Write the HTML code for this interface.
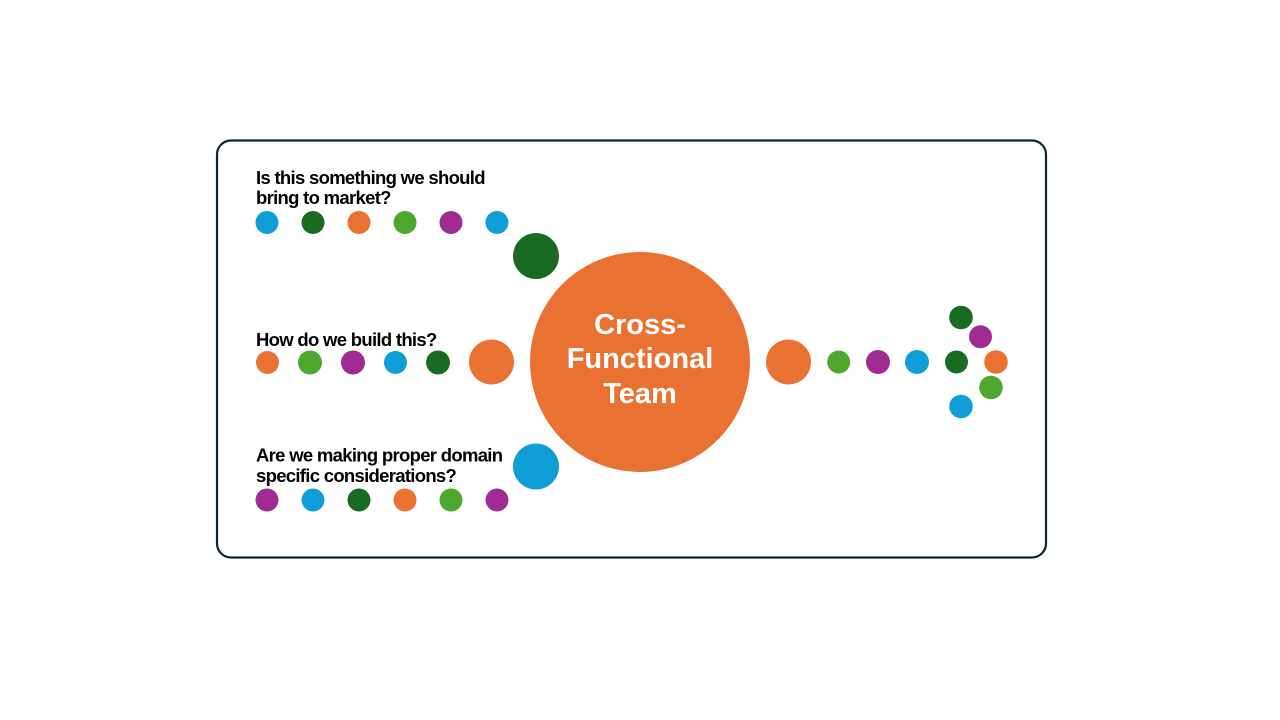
<!DOCTYPE html>
<html>
<head>
<meta charset="utf-8">
<style>
  html, body { margin:0; padding:0; background:#fff; }
  svg { display:block; }
  .q { font-family:"Liberation Sans", sans-serif; font-weight:bold; font-size:18.5px; letter-spacing:-0.7px; fill:#000; }
  .c { font-family:"Liberation Sans", sans-serif; font-weight:bold; font-size:29px; fill:#fff; text-anchor:middle; }
</style>
</head>
<body>
<svg width="1280" height="720" viewBox="0 0 1280 720" xmlns="http://www.w3.org/2000/svg">
  <rect x="0" y="0" width="1280" height="720" fill="#fff"/>
  <rect x="217" y="140.5" width="829" height="417" rx="14" ry="14" fill="none" stroke="#0e2433" stroke-width="2.2"/>

  <!-- Top question -->
  <text class="q" x="256" y="184">Is this something we should</text>
  <text class="q" x="256" y="204">bring to market?</text>
  <circle cx="267" cy="222.5" r="11.5" fill="#0F9ED5"/>
  <circle cx="313" cy="222.5" r="11.5" fill="#196B24"/>
  <circle cx="359" cy="222.5" r="11.5" fill="#E97132"/>
  <circle cx="405" cy="222.5" r="11.5" fill="#4EA72E"/>
  <circle cx="451" cy="222.5" r="11.5" fill="#A02B93"/>
  <circle cx="497" cy="222.5" r="11.5" fill="#0F9ED5"/>
  <circle cx="536" cy="256" r="23" fill="#196B24"/>

  <!-- Middle question -->
  <text class="q" x="256" y="346">How do we build this?</text>
  <circle cx="267.5" cy="362.5" r="11.5" fill="#E97132"/>
  <circle cx="310" cy="362.5" r="12" fill="#4EA72E"/>
  <circle cx="353" cy="362.5" r="12" fill="#A02B93"/>
  <circle cx="395.5" cy="362.5" r="11.5" fill="#0F9ED5"/>
  <circle cx="438" cy="362.5" r="12" fill="#196B24"/>
  <circle cx="491.5" cy="362" r="22.5" fill="#E97132"/>

  <!-- Bottom question -->
  <text class="q" x="256" y="461.5">Are we making proper domain</text>
  <text class="q" x="256" y="482">specific considerations?</text>
  <circle cx="536" cy="466.5" r="23" fill="#0F9ED5"/>
  <circle cx="267" cy="500" r="11.5" fill="#A02B93"/>
  <circle cx="313" cy="500" r="11.5" fill="#0F9ED5"/>
  <circle cx="359" cy="500" r="11.5" fill="#196B24"/>
  <circle cx="405" cy="500" r="11.5" fill="#E97132"/>
  <circle cx="451" cy="500" r="11.5" fill="#4EA72E"/>
  <circle cx="497" cy="500" r="11.5" fill="#A02B93"/>

  <!-- Center -->
  <circle cx="640" cy="362" r="110" fill="#E97132"/>
  <text class="c" x="640" y="334">Cross-</text>
  <text class="c" x="640" y="368">Functional</text>
  <text class="c" x="640" y="403">Team</text>

  <!-- Right arrow -->
  <circle cx="788.5" cy="362" r="22.5" fill="#E97132"/>
  <circle cx="838.7" cy="362" r="11.5" fill="#4EA72E"/>
  <circle cx="878" cy="362" r="12" fill="#A02B93"/>
  <circle cx="917" cy="362" r="12" fill="#0F9ED5"/>
  <circle cx="956.5" cy="362" r="11.5" fill="#196B24"/>
  <circle cx="996" cy="362" r="11.8" fill="#E97132"/>
  <circle cx="961" cy="317.5" r="11.8" fill="#196B24"/>
  <circle cx="980.5" cy="336.7" r="11.5" fill="#A02B93"/>
  <circle cx="991" cy="387.5" r="11.8" fill="#4EA72E"/>
  <circle cx="961" cy="406.5" r="11.8" fill="#0F9ED5"/>
</svg>
</body>
</html>
